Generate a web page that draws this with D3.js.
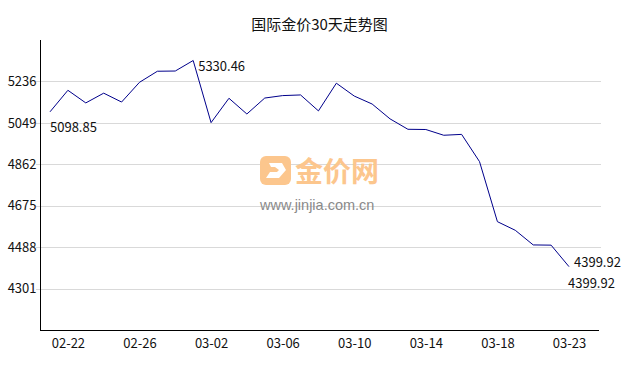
<!DOCTYPE html>
<html>
  <head>
    <meta charset="utf-8" />
    <title>国际金价30天走势图</title>
    <script src="https://d3js.org/d3.v7.min.js"></script>
    <style>
      body {
        margin: 0;
        font-family: "Noto Sans CJK SC", "Noto Sans", sans-serif;
      }
      svg {
        background: #fff;
        display: block;
      }
    </style>
  </head>
  <body>
    <svg width="638" height="370"></svg>

    <script>
      const dates = [
        "02-21", "02-22", "02-23", "02-24", "02-25", "02-26", "02-27", "02-28",
        "03-01", "03-02", "03-03", "03-04", "03-05", "03-06", "03-07", "03-08",
        "03-09", "03-10", "03-11", "03-12", "03-13", "03-14", "03-15", "03-16",
        "03-17", "03-18", "03-19", "03-20", "03-21", "03-23"
      ];
      const prices = [
        5098.85, 5196, 5139, 5183, 5143, 5232, 5282, 5283, 5330.46, 5050,
        5160, 5089, 5161, 5172, 5175, 5103, 5228, 5170, 5134, 5067,
        5020, 5019, 4993, 4997, 4874, 4603, 4564, 4498, 4497, 4399.92
      ];
      const xTicks = ["02-22", "02-26", "03-02", "03-06", "03-10", "03-14", "03-18", "03-23"];
      const yTicks = [4301, 4488, 4675, 4862, 5049, 5236];

      const svg = d3.select("svg");
      const plotLeft = 40, plotRight = 600, plotTop = 40, plotBottom = 330;

      const x = d3.scalePoint().domain(dates).range([50, 569]);
      const y = d3.scaleLinear().domain([4114, 5423]).range([plotBottom, plotTop]);

      // title
      svg.append("text")
        .attr("x", 319.5).attr("y", 30)
        .attr("text-anchor", "middle")
        .style("font-size", "15px")
        .attr("fill", "#111")
        .text("国际金价30天走势图");

      // grid lines
      svg.append("g")
        .selectAll("line")
        .data(yTicks)
        .join("line")
        .attr("x1", plotLeft - 4).attr("x2", plotRight + 1)
        .attr("y1", d => Math.round(y(d)) + 0.5)
        .attr("y2", d => Math.round(y(d)) + 0.5)
        .attr("stroke", "#d9d9d9");

      // watermark
      const wm = svg.append("g");
      wm.append("rect")
        .attr("x", 260).attr("y", 156).attr("width", 31).attr("height", 29)
        .attr("rx", 6).attr("fill", "#fcc68d");
      wm.append("path")
        .attr("d", "M269,163 L282,163 L286,170 L279,178 L266,178 L270,172 L277,172 L279,170 L275,167 L271,167 Z")
        .attr("fill", "#fff");
      wm.append("text")
        .attr("x", 295).attr("y", 182)
        .style("font-size", "28px").style("font-weight", "bold")
        .attr("fill", "#fcc68d")
        .text("金价网");
      wm.append("text")
        .attr("x", 260).attr("y", 210)
        .style("font-family", "Liberation Sans, Arial, sans-serif")
        .style("font-size", "14.5px")
        .attr("fill", "#8a8a8a")
        .text("www.jinjia.com.cn");

      // y axis
      const yAxis = d3.axisLeft(y).tickValues(yTicks).tickFormat(d3.format("d"))
        .tickSize(0).tickPadding(4);
      const yg = svg.append("g").attr("transform", `translate(${plotLeft + 0.5},0)`).call(yAxis);
      yg.select(".domain").attr("stroke", "#000").attr("d", `M0,${plotTop}V${plotBottom}`);
      yg.selectAll("text").style("font-size", "13px").attr("fill", "#111")
        .style("font-family", "\"Noto Sans CJK SC\", sans-serif");

      // x axis
      const xAxis = d3.axisBottom(x).tickValues(xTicks).tickSize(0).tickPadding(8);
      const xg = svg.append("g").attr("transform", `translate(0,${plotBottom + 0.5})`).call(xAxis);
      xg.select(".domain").attr("stroke", "#000").attr("d", `M${plotLeft},0H${plotRight - 1}`);
      xg.selectAll("text").style("font-size", "13px").attr("fill", "#111")
        .style("font-family", "\"Noto Sans CJK SC\", sans-serif");

      // price line
      const line = d3.line().x((d, i) => x(dates[i])).y(d => y(d));
      svg.append("path")
        .datum(prices)
        .attr("d", line)
        .attr("fill", "none")
        .attr("stroke", "#00008b")
        .attr("stroke-width", 1);

      // labels
      const n = prices.length;
      const iMax = d3.maxIndex(prices);
      const labels = [
        { i: 0, dx: 0, dy: 20 },
        { i: iMax, dx: 5, dy: 10 },
        { i: n - 1, dx: 5, dy: 0 },
        { i: n - 1, dx: -1, dy: 21 }
      ];
      svg.append("g")
        .selectAll("text")
        .data(labels)
        .join("text")
        .attr("x", d => x(dates[d.i]) + d.dx)
        .attr("y", d => y(prices[d.i]) + d.dy)
        .style("font-size", "13px")
        .attr("fill", "#111")
        .text(d => prices[d.i].toFixed(2));
    </script>
  </body>
</html>
